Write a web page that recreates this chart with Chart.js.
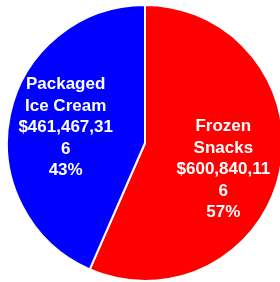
<!DOCTYPE html>
<html>
<head>
<meta charset="utf-8">
<script src="https://cdn.jsdelivr.net/npm/chart.js@4"></script>
<style>
  html, body { margin: 0; padding: 0; background: #fff; overflow: hidden; }
  #wrap { position: absolute; left: 6px; top: 4px; width: 278px; height: 278px; }
</style>
</head>
<body>
<div id="wrap"><canvas id="pie-chart"></canvas></div>
<script>
const categories = ["Frozen Snacks", "Packaged Ice Cream"];
const sales = [600840116, 461467316];
const sliceColors = ["#ff0000", "#0000ff"];

// writes name, value and percent inside each slice, wrapping like the original
const sliceLabels = {
  id: "sliceLabels",
  afterDatasetsDraw(chart, args, opts) {
    const ctx = chart.ctx;
    const meta = chart.getDatasetMeta(0);
    const total = sales.reduce((a, b) => a + b, 0);
    ctx.save();
    ctx.font = opts.font;
    ctx.fillStyle = "#fff";
    ctx.textAlign = "center";
    ctx.textBaseline = "middle";

    meta.data.forEach((arc, i) => {
      const value = "$" + sales[i].toLocaleString("en-US");
      const pct = Math.round((sales[i] / total) * 100) + "%";
      const lines = [
        ...wrap(ctx, categories[i], opts.maxWidth),
        ...wrap(ctx, value, opts.maxWidth),
        pct,
      ];
      const mid = (arc.startAngle + arc.endAngle) / 2;
      const r = arc.outerRadius * opts.ratio;
      const cx = arc.x + Math.cos(mid) * r + opts.shift[i][0];
      const cy = arc.y + Math.sin(mid) * r + opts.shift[i][1];
      const top = cy - ((lines.length - 1) * opts.lineHeight) / 2;
      lines.forEach((ln, j) => ctx.fillText(ln, cx, top + j * opts.lineHeight));
    });
    ctx.restore();
  },
};

function wrap(ctx, text, maxWidth) {
  const out = [];
  let cur = "";
  text.split(" ").forEach((word) => {
    const test = cur ? cur + " " + word : word;
    if (ctx.measureText(test).width <= maxWidth) {
      cur = test;
      return;
    }
    if (cur) out.push(cur);
    cur = "";
    for (const ch of word) {
      if (ctx.measureText(cur + ch).width > maxWidth && cur) {
        out.push(cur);
        cur = ch;
      } else {
        cur += ch;
      }
    }
  });
  if (cur) out.push(cur);
  return out;
}

new Chart(document.getElementById("pie-chart"), {
  type: "pie",
  data: {
    labels: categories,
    datasets: [
      {
        data: sales,
        backgroundColor: sliceColors,
        borderColor: "#ffffff",
        borderWidth: 2,
      },
    ],
  },
  options: {
    responsive: true,
    maintainAspectRatio: false,
    animation: false,
    layout: { padding: 0 },
    plugins: {
      legend: { display: false },
      tooltip: { enabled: false },
      sliceLabels: {
        font: "bold 17px 'Liberation Sans', Arial, sans-serif",
        maxWidth: 98,
        lineHeight: 21.5,
        ratio: 0.58,
        shift: [[0, 10], [-1, 1]],
      },
    },
  },
  plugins: [sliceLabels],
});
</script>
</body>
</html>
